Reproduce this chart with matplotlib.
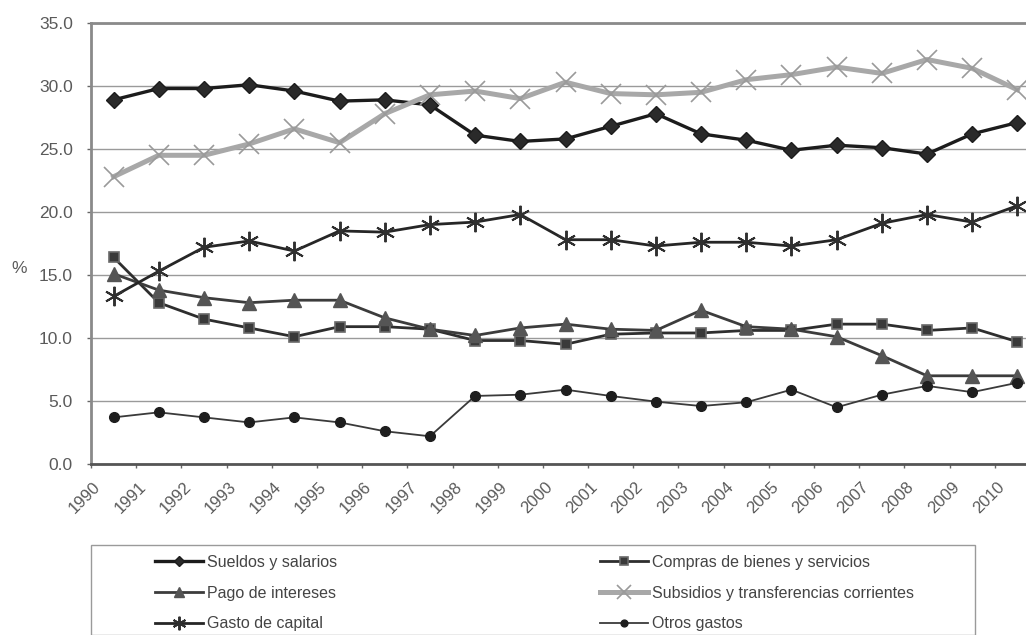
import matplotlib
matplotlib.use("Agg")
import matplotlib.pyplot as plt
from matplotlib.patches import Rectangle
import numpy as np

plt.rcParams['font.family'] = ['Liberation Sans', 'DejaVu Sans']

years = [str(y) for y in range(1990, 2011)]

sueldos = [28.9, 29.8, 29.8, 30.1, 29.6, 28.8, 28.9, 28.5, 26.1, 25.6, 25.8,
           26.8, 27.8, 26.2, 25.7, 24.9, 25.3, 25.1, 24.6, 26.2, 27.1]
compras = [16.4, 12.8, 11.5, 10.8, 10.1, 10.9, 10.9, 10.7, 9.8, 9.8, 9.5,
           10.3, 10.4, 10.4, 10.6, 10.6, 11.1, 11.1, 10.6, 10.8, 9.7]
intereses = [15.1, 13.8, 13.2, 12.8, 13.0, 13.0, 11.6, 10.7, 10.2, 10.8, 11.1,
             10.7, 10.6, 12.2, 10.9, 10.7, 10.1, 8.6, 7.0, 7.0, 7.0]
subsidios = [22.8, 24.5, 24.5, 25.4, 26.6, 25.5, 27.8, 29.3, 29.6, 29.0, 30.3,
             29.4, 29.3, 29.5, 30.5, 30.9, 31.5, 31.0, 32.1, 31.4, 29.7]
capital = [13.3, 15.3, 17.2, 17.7, 16.9, 18.5, 18.4, 19.0, 19.2, 19.8, 17.8,
           17.8, 17.3, 17.6, 17.6, 17.3, 17.8, 19.1, 19.8, 19.2, 20.5]
otros = [3.7, 4.1, 3.7, 3.3, 3.7, 3.3, 2.6, 2.2, 5.4, 5.5, 5.9,
         5.4, 4.95, 4.6, 4.9, 5.9, 4.5, 5.5, 6.2, 5.7, 6.45]

W, H = 1026, 635
fig = plt.figure(figsize=(W / 100, H / 100), dpi=100)
# plot area runs a little past the right edge, as in the source
ax = fig.add_axes([91 / W, 1 - 464 / H, 949 / W, 441 / H])

x = np.arange(len(years)) + 0.5

l1, = ax.plot(x, sueldos, color='#1c1c1c', lw=2.4, marker='D', ms=8,
              mfc='#2a2a2a', mec='#1c1c1c', label='Sueldos y salarios')
l2, = ax.plot(x, compras, color='#2e2e2e', lw=2.0, marker='s', ms=7.5,
              mfc='#3a3a3a', mec='#6a6a6a', mew=1.2, label='Compras de bienes y servicios')
l3, = ax.plot(x, intereses, color='#3c3c3c', lw=2.0, marker='^', ms=9.5,
              mfc='#555555', mec='#555555', label='Pago de intereses')
l4, = ax.plot(x, subsidios, color='#a8a8a8', lw=3.6, marker='x', ms=14,
              mec='#9a9a9a', mew=1.2, label='Subsidios y transferencias corrientes')
l5, = ax.plot(x, capital, color='#262626', lw=2.0, marker=(6, 2, 0), ms=14,
              mec='#303030', mew=1.4, label='Gasto de capital')
l6, = ax.plot(x, otros, color='#3a3a3a', lw=1.3, marker='o', ms=7,
              mfc='#1e1e1e', mec='#1e1e1e', label='Otros gastos')

ax.set_xlim(0, 21)
ax.set_ylim(0, 35)
ax.set_yticks(np.arange(0, 35.1, 5))
ax.set_yticklabels([f"{v:.1f}" for v in np.arange(0, 35.1, 5)],
                   fontsize=12.5, color='#5a5a5a')
ax.yaxis.grid(True, color='#9a9a9a', lw=1.0)
ax.set_axisbelow(True)

# tick marks on category borders, year labels slightly to the right of them
ax.set_xticks(np.arange(0, 22))
ax.set_xticklabels([])
ax.set_xticks(np.arange(len(years)) + 0.16, minor=True)
ax.set_xticklabels(years, minor=True, rotation=45, ha='right', va='center',
                   rotation_mode='anchor', fontsize=12, color='#5a5a5a')

ax.tick_params(axis='x', which='major', length=3, width=1, color='#666666', direction='out')
ax.tick_params(axis='x', which='minor', length=0, pad=15)
ax.tick_params(axis='y', length=3, width=1, color='#666666', direction='out', pad=10)

for s in ['top', 'left']:
    ax.spines[s].set_color('#8a8a8a')
    ax.spines[s].set_linewidth(2.0)
ax.spines['bottom'].set_color('#555555')
ax.spines['bottom'].set_linewidth(2.0)
ax.spines['right'].set_visible(False)

fig.text(11 / W, 1 - 268 / H, '%', fontsize=12.5, color='#5a5a5a',
         ha='left', va='center')

# legend frame
fig.patches.append(Rectangle((91 / W, 0), (975 - 91) / W, (H - 545) / H,
                             transform=fig.transFigure, fill=False,
                             edgecolor='#9a9a9a', lw=1.0))

leg_kw = dict(frameon=False, fontsize=11.5, labelcolor='#444444',
              handlelength=3.0, handletextpad=0.25, labelspacing=0.98,
              borderpad=0, borderaxespad=0, markerscale=0.7)
leg1 = fig.legend(handles=[l1, l3, l5], loc='upper left',
                  bbox_to_anchor=(155 / W, 1 - 555 / H), **leg_kw)
leg2 = fig.legend(handles=[l2, l4, l6], loc='upper left',
                  bbox_to_anchor=(600 / W, 1 - 555 / H), **leg_kw)

fig.savefig('out.png', dpi=100)
